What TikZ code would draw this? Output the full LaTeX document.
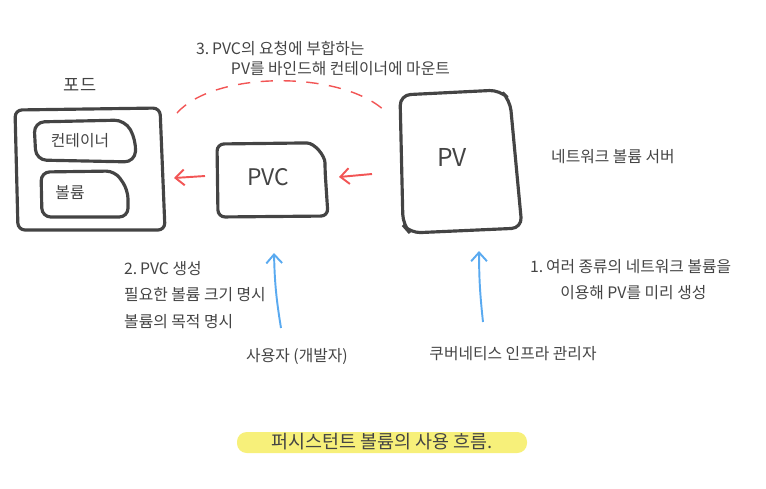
\documentclass[tikz,border=0pt]{standalone}
\usepackage{fontspec}
\setmainfont{Noto Sans CJK KR}
\usetikzlibrary{arrows.meta}

\definecolor{ink}{HTML}{444444}
\definecolor{redpen}{HTML}{F25555}
\definecolor{bluepen}{HTML}{5AAAF0}
\definecolor{marker}{HTML}{F7F07A}

\tikzset{
    box/.style={draw=ink, line width=1.8pt, rounded corners=4pt},
    label/.style={text=ink, font=\fontsize{9}{11.5}\selectfont, align=left},
    redarrow/.style={draw=redpen, line width=1.1pt, -{Straight Barb[length=5pt,width=9pt]}},
    bluearrow/.style={draw=bluepen, line width=1.1pt, -{Straight Barb[length=5pt,width=9pt]}}
}

\begin{document}
\begin{tikzpicture}[x=0.02cm, y=-0.02cm]
    \useasboundingbox (0,0) rectangle (766,488);
    % pod with container and volume
    \draw[box] (15,110) -- (160,108) -- (165,230) -- (18,230) -- cycle;
    \node[label, font=\fontsize{10}{12}\selectfont] (podname) at (80,85) {포드};
    \draw[box, rounded corners=6pt] (34,122) -- (125,120) -- (136,140) -- (135,162) -- (36,160) -- cycle;
    \node[label] (container) at (80,141) {컨테이너};
    \draw[box, rounded corners=5pt] (41,172) -- (115,171) -- (128,190) -- (128,217) -- (42,217) -- cycle;
    \node[label] (volume) at (70,193) {볼륨};
    \coordinate (podedge) at (174,178);
    % pvc and pv
    \draw[box] (217,144) -- (300,143) to[out=0,in=90] (325,170) -- (328,216) -- (218,217) -- cycle;
    \node[label, font=\fontsize{13}{15}\selectfont] (pvc) at (268,177) {PVC};
    \coordinate (pvcleft) at (205,176);
    \coordinate (pvcright) at (339,177);
    \draw[box, rounded corners=6pt] (400,95) -- (500,90) -- (510,100) -- (522,228) -- (410,233) -- (403,225) -- cycle;
    \node[label, font=\fontsize{14}{16}\selectfont] (pv) at (452,157) {PV};
    \coordinate (pvleft) at (372,174);
    % binding arc
    \coordinate (arcstart) at (177,113);
    \coordinate (arcend) at (387,113);
    \draw[redpen, line width=0.8pt, dash pattern=on 7pt off 6pt] (arcstart) .. controls (215,70) and (345,70) .. (arcend);
    % arrows
    \draw[redarrow] (pvleft) -- (pvcright);
    \draw[redarrow] (pvcleft) -- (podedge);
    % descriptions
    \node[label, anchor=north west] (bindtext) at (190,35) {3.\,PVC의 요청에 부합하는\\\hspace{2.2em}PV를 바인드해 컨테이너에 마운트};
    \node[label, anchor=west] (server) at (545,157) {네트워크 볼륨 서버};
    \node[label, anchor=north west, font=\fontsize{9}{15}\selectfont] (claimtext) at (118,255) {2.\,PVC 생성\\필요한 볼륨 크기 명시\\볼륨의 목적 명시};
    \node[label, anchor=north west, font=\fontsize{9}{15}\selectfont] (admintext) at (524,253) {1.\,여러 종류의 네트워크 볼륨을\\\hspace{1.9em}이용해 PV를 미리 생성};
    \node[label] (developer) at (297,356) {사용자 (개발자)};
    \node[label] (admin) at (513,354) {쿠버네티스 인프라 관리자};
    \coordinate (devfoot) at (281,328);
    \coordinate (devtip) at (274,253);
    \coordinate (adminfoot) at (483,322);
    \coordinate (admintip) at (479,251);
    \draw[bluearrow] (devfoot) to[bend left=4] (devtip);
    \draw[bluearrow] (adminfoot) to[bend left=3] (admintip);
    % caption
    \fill[marker, rounded corners=5.5pt] (237,432) rectangle (527,453);
    \node[label, font=\fontsize{10.5}{12}\selectfont] (caption) at (382,442) {퍼시스턴트 볼륨의 사용 흐름.};
\end{tikzpicture}
\end{document}
